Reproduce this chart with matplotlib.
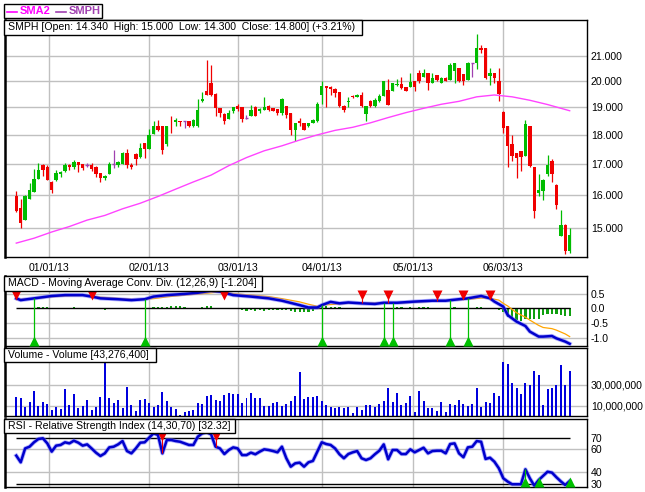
import numpy as np
import matplotlib
matplotlib.use('Agg')
import matplotlib.pyplot as plt
from matplotlib.patches import Rectangle
from matplotlib.lines import Line2D
from matplotlib.ticker import NullLocator

plt.rcParams['font.family'] = ['Liberation Sans', 'DejaVu Sans']

# ---------------- data ----------------
date_labels = ["01/01/13", "02/01/13", "03/01/13", "04/01/13", "05/01/13", "06/03/13"]
date_pos = [7.5, 30, 50, 69, 89.5, 110]

opens = [15.96, 15.61, 15.25, 15.89, 16.10, 16.53, 16.98, 16.92, 16.43, 16.49,
         16.66, 16.77, 16.98, 16.89, 17.07, 17.00, 16.98, 16.98, 16.92, 16.71,
         16.55, 16.68, 17.01, 16.96, 17.01, 17.37, 16.98, 17.35, 17.24, 17.72,
         17.52, 18.04, 18.31, 18.32, 17.69, 18.51, 18.46, 18.50, 18.48, 18.50,
         18.30, 18.30, 19.22, 19.62, 19.94, 19.51, 18.96, 18.76, 18.58, 18.85,
         19.03, 19.00, 18.60, 18.68, 19.00, 18.86, 18.90, 19.05, 18.96, 18.94,
         18.78, 19.05, 18.78, 18.18, 18.50, 18.42, 18.30, 18.42, 18.48, 19.47,
         19.81, 19.78, 19.70, 19.56, 19.06, 19.21, 19.43, 19.40, 19.47, 18.76,
         19.25, 19.03, 19.22, 19.43, 19.66, 19.63, 19.85, 19.89, 19.75, 19.78,
         20.00, 20.33, 20.17, 20.31, 19.94, 20.24, 19.94, 20.11, 20.04, 20.41,
         20.51, 20.27, 20.04, 20.71, 20.71, 21.32, 21.31, 20.20, 20.31, 20.00,
         18.84, 18.30, 17.69, 17.37, 17.43, 17.28, 18.32, 16.89, 16.08, 16.12,
         16.69, 17.11, 16.33, 14.77, 15.10, 14.34]
highs = [16.14, 15.88, 16.00, 16.37, 16.84, 17.03, 17.00, 16.96, 16.45, 16.82,
         16.76, 17.05, 17.00, 17.15, 17.08, 17.02, 17.03, 17.03, 16.95, 16.72,
         16.63, 17.07, 17.49, 17.11, 17.42, 17.52, 17.03, 17.36, 17.72, 17.73,
         18.20, 18.48, 18.52, 18.33, 18.33, 18.68, 18.60, 18.51, 18.50, 18.51,
         18.55, 19.32, 19.56, 20.84, 20.64, 19.52, 18.97, 18.77, 18.90, 19.02,
         19.13, 19.02, 18.72, 19.08, 19.05, 18.98, 19.40, 19.09, 18.97, 18.95,
         19.33, 19.06, 18.79, 18.43, 18.60, 18.43, 18.43, 18.56, 19.18, 20.00,
         19.82, 19.80, 19.71, 19.57, 19.07, 19.38, 19.47, 19.50, 19.57, 19.04,
         19.26, 19.33, 19.50, 20.00, 20.08, 19.94, 20.07, 20.17, 19.76, 20.31,
         20.01, 20.44, 20.47, 20.32, 20.31, 20.25, 20.17, 20.17, 20.73, 20.72,
         20.52, 20.28, 20.77, 20.72, 21.92, 21.46, 21.32, 20.51, 20.33, 20.51,
         18.85, 18.33, 18.00, 17.38, 17.44, 18.52, 18.33, 16.90, 16.69, 16.52,
         17.32, 17.17, 16.34, 15.53, 15.11, 15.00]
lows = [15.47, 15.00, 15.25, 15.88, 16.10, 16.50, 16.60, 16.49, 16.06, 16.45,
        16.57, 16.75, 16.82, 16.85, 16.73, 16.80, 16.92, 16.76, 16.57, 16.41,
        16.47, 16.66, 16.87, 16.92, 17.00, 16.87, 16.85, 16.98, 17.22, 17.19,
        17.50, 18.03, 18.15, 17.35, 17.60, 18.06, 18.30, 18.30, 18.26, 18.28,
        18.29, 18.29, 19.20, 19.47, 19.44, 18.69, 18.65, 18.40, 18.57, 18.78,
        18.85, 18.45, 18.58, 18.66, 18.66, 18.80, 18.88, 18.86, 18.85, 18.72,
        18.72, 18.60, 18.00, 17.80, 18.30, 18.17, 18.29, 18.41, 18.47, 19.13,
        19.00, 19.47, 19.40, 19.00, 18.81, 19.02, 19.35, 19.39, 19.00, 18.48,
        19.02, 19.02, 19.18, 19.42, 19.08, 19.62, 19.81, 19.70, 19.60, 19.77,
        19.60, 19.94, 20.16, 19.66, 19.93, 20.00, 19.93, 19.99, 20.03, 19.91,
        19.97, 19.85, 20.03, 20.15, 20.47, 21.14, 20.07, 19.84, 19.93, 19.22,
        18.08, 16.92, 17.09, 16.55, 16.78, 17.27, 16.90, 15.29, 15.98, 15.85,
        16.60, 16.41, 15.57, 14.76, 14.26, 14.30]
closes = [15.50, 15.15, 15.99, 16.17, 16.53, 16.82, 16.80, 16.49, 16.17, 16.71,
          16.73, 16.96, 16.89, 17.07, 16.98, 16.87, 16.98, 16.84, 16.69, 16.55,
          16.62, 17.00, 17.01, 17.08, 17.37, 16.96, 16.90, 17.17, 17.55, 17.52,
          18.00, 18.31, 18.16, 17.47, 18.32, 18.48, 18.54, 18.46, 18.48, 18.30,
          18.52, 18.90, 19.32, 19.47, 19.47, 18.96, 18.80, 18.48, 18.78, 19.00,
          18.94, 18.57, 18.60, 18.88, 18.68, 18.94, 19.00, 18.90, 18.86, 18.80,
          19.32, 18.72, 18.18, 18.42, 18.42, 18.18, 18.42, 18.52, 19.13, 19.81,
          19.72, 19.70, 19.55, 19.06, 18.88, 19.25, 19.38, 19.47, 19.03, 19.03,
          19.03, 19.28, 19.43, 20.00, 19.09, 19.91, 19.89, 19.71, 19.62, 19.97,
          19.78, 20.01, 20.31, 19.91, 20.11, 20.04, 20.11, 20.00, 20.64, 20.71,
          20.00, 20.01, 20.73, 20.71, 21.32, 21.25, 20.11, 20.33, 20.11, 19.50,
          18.24, 17.60, 17.28, 17.20, 17.24, 18.40, 16.93, 15.50, 16.15, 16.47,
          16.98, 16.66, 15.71, 15.10, 14.34, 14.80]

volumes_m = [18.5, 17.6, 8.9, 13.7, 24.2, 9.9, 13.7, 11.5, 5.7, 8.9,
             6.7, 25.8, 10.5, 21.1, 8.0, 9.9, 15.3, 5.7, 8.9, 18.5,
             52.6, 17.6, 12.1, 15.3, 8.0, 28.1, 10.5, 4.8, 15.3, 16.3,
             12.1, 8.9, 10.5, 23.3, 14.3, 8.9, 6.7, 1.0, 3.5, 4.8,
             5.7, 12.1, 11.5, 19.1, 20.1, 15.3, 14.3, 20.1, 22.6, 21.1,
             21.1, 12.1, 17.6, 22.6, 17.6, 17.6, 9.6, 9.6, 12.1, 13.1,
             9.6, 11.5, 14.3, 19.1, 42.4, 16.3, 18.5, 18.5, 19.1, 14.3,
             10.5, 8.9, 8.0, 8.9, 8.0, 8.9, 3.2, 8.9, 5.7, 10.5,
             10.5, 8.9, 11.5, 14.3, 27.1, 13.7, 22.6, 10.5, 12.1, 19.1,
             4.1, 23.9, 14.3, 8.0, 8.0, 4.8, 13.1, 4.1, 11.5, 10.5,
             15.3, 11.5, 9.6, 11.5, 27.1, 8.9, 13.1, 12.8, 22.6, 19.1,
             51.9, 50.4, 32.1, 27.1, 21.7, 32.1, 30.2, 43.9, 39.2, 10.5,
             25.8, 27.1, 29.6, 49.4, 29.6, 43.2764]

sma_idx = [0, 4, 8, 12, 16, 20, 24, 28, 32, 36, 40, 44, 48, 52, 56, 60, 64, 68,
           72, 76, 80, 84, 88, 92, 96, 100, 104, 108, 112, 116, 120, 125]
sma_val = [14.57, 14.71, 14.89, 15.05, 15.24, 15.38, 15.58, 15.75, 15.96, 16.19,
           16.42, 16.64, 16.95, 17.22, 17.45, 17.62, 17.82, 18.00, 18.16, 18.27,
           18.43, 18.62, 18.80, 18.96, 19.11, 19.22, 19.39, 19.46, 19.39, 19.26,
           19.10, 18.87]

macd_idx = [0, 1, 4, 8, 11, 15, 17, 19, 23, 26, 29, 31, 34, 38, 41, 44, 46, 49, 53,
            57, 60, 64, 66, 68, 69, 71, 73, 75, 78, 81, 83, 86, 90, 94, 97, 100, 102,
            105, 107, 108, 110, 111, 113, 115, 116, 118, 119, 121, 122, 124, 125]
macd_val = [0.34, 0.28, 0.34, 0.42, 0.45, 0.45, 0.40, 0.34, 0.31, 0.28, 0.31, 0.40,
            0.45, 0.49, 0.53, 0.60, 0.57, 0.45, 0.40, 0.34, 0.26, 0.11, 0.03, 0.03,
            0.11, 0.22, 0.17, 0.20, 0.17, 0.15, 0.19, 0.19, 0.23, 0.26, 0.26, 0.31,
            0.34, 0.42, 0.34, 0.23, 0.06, -0.23, -0.45, -0.60, -0.79, -0.96, -0.96,
            -0.94, -1.02, -1.13, -1.204]
sig_idx = [0, 4, 8, 12, 16, 19, 23, 27, 31, 34, 38, 42, 44, 46, 49, 53, 57, 60, 64,
           66, 68, 70, 73, 76, 80, 83, 86, 90, 94, 97, 100, 103, 105, 107, 109, 110,
           111, 113, 115, 116, 118, 119, 121, 122, 124, 125]
sig_val = [0.30, 0.33, 0.39, 0.43, 0.44, 0.38, 0.34, 0.30, 0.33, 0.39, 0.45, 0.50,
           0.53, 0.56, 0.50, 0.45, 0.40, 0.33, 0.22, 0.14, 0.07, 0.12, 0.15, 0.18,
           0.18, 0.18, 0.17, 0.21, 0.24, 0.26, 0.29, 0.32, 0.35, 0.34, 0.28, 0.17,
           0.08, -0.15, -0.30, -0.40, -0.58, -0.65, -0.69, -0.74, -0.87, -0.96]
macd_hist = [0, -0.03, -0.03, 0, 0, 0.03, 0.06, 0.03, 0, 0,
             0, 0, 0, 0.03, 0, 0, 0, 0, -0.03, -0.03,
             -0.06, -0.03, -0.03, -0.02, 0, 0, -0.03, 0, 0, 0,
             0, 0.06, 0.06, 0.03, 0.06, 0.08, 0.08, 0.08, 0.03, 0,
             0, 0, 0.06, 0.08, 0.08, 0, 0, -0.03, -0.03, -0.03,
             -0.03, -0.06, -0.08, -0.06, -0.08, -0.06, -0.08, -0.06, -0.06, -0.06,
             -0.06, -0.06, -0.08, -0.11, -0.11, -0.11, -0.11, -0.08, -0.03, 0.03,
             0.08, 0.06, 0.03, 0.03, 0, 0, 0, 0, 0, 0,
             -0.03, 0, 0, 0, 0, 0, 0.03, 0.03, 0, 0.03,
             0, 0.03, 0.03, 0.03, 0, 0, 0, 0, 0, 0.03,
             0, 0, 0, 0, 0.06, 0.06, 0, 0, -0.03, -0.06,
             -0.11, -0.28, -0.34, -0.40, -0.42, -0.37, -0.37, -0.35, -0.37, -0.23,
             -0.20, -0.20, -0.20, -0.23, -0.26, -0.26]
macd_sell = [0, 17, 47, 78, 84, 95, 101, 107]
macd_buy = [4, 29, 69, 83, 85, 98, 102]

rsi_idx = [0, 1, 2, 3, 4, 5, 6, 7, 8, 9, 10, 11, 12, 13, 14, 15, 16, 17, 18, 19,
           20, 21, 22, 23, 24, 25, 26, 27, 28, 29, 30, 31, 32, 33, 34, 35, 36, 37,
           39, 40, 41, 42, 43, 44, 45, 46, 47, 48, 49, 50, 51, 52, 53, 54, 55, 56,
           57, 58, 59, 60, 61, 62, 63, 64, 65, 66, 67, 68, 69, 70, 71, 72, 73, 74,
           75, 76, 77, 78, 79, 80, 81, 82, 83, 84, 85, 86, 87, 88, 89, 90, 91, 92,
           93, 94, 95, 96, 97, 98, 99, 100, 101, 102, 103, 104, 105, 106, 107, 108,
           109, 110, 111, 112, 114, 115, 116, 117, 118, 120, 121, 122, 123, 124, 125]
rsi_val = [54.4, 48.6, 60.7, 62.2, 66.0, 68.9, 69.5, 65.1, 57.9, 63.1, 63.7, 66.0,
           65.1, 67.4, 65.7, 63.1, 64.2, 60.7, 57.0, 54.1, 56.4, 61.6, 62.2, 64.2,
           67.1, 58.4, 56.4, 60.7, 65.7, 66.0, 70.0, 73.8, 72.4, 56.4, 68.0, 68.0,
           67.1, 66.5, 63.7, 63.7, 70.9, 73.8, 74.7, 73.0, 62.2, 60.7, 55.8, 59.3,
           61.6, 60.7, 54.9, 54.9, 57.0, 55.6, 57.9, 59.9, 59.3, 58.4, 57.3, 62.2,
           52.1, 44.8, 47.7, 48.3, 44.8, 48.6, 49.8, 57.9, 66.0, 64.5, 63.7, 60.7,
           55.6, 52.1, 55.8, 57.3, 58.4, 52.1, 50.6, 52.1, 55.6, 58.7, 64.2, 51.2,
           59.3, 59.3, 55.8, 55.8, 59.9, 57.3, 59.3, 61.3, 56.4, 58.4, 58.7, 58.7,
           56.4, 64.5, 65.1, 56.4, 53.0, 61.6, 62.2, 67.1, 66.5, 51.5, 52.6, 49.1,
           43.4, 34.7, 31.8, 29.5, 29.5, 42.5, 34.7, 28.3, 33.2, 40.4, 39.6, 35.6,
           32.0, 28.8, 32.32]
rsi_sell = [33, 45]
rsi_buy = [115, 118, 125]

# ---------------- figure ----------------
W, H = 645, 492
fig = plt.figure(figsize=(W / 100, H / 100), dpi=100)
FS = 7.6
GRID = '#C0C0C0'
GREEN = '#00BC00'
RED = '#F00000'
PURPLE = '#A040B0'


def rect(top, bottom, left=5.0, right=586.5):
    return [left / W, 1 - bottom / H, (right - left) / W, (bottom - top) / H]


def fx(px):
    return px / W


def fy(py):
    return 1 - py / H


n = len(closes)
xs = np.arange(n)
XL = (-2.55, 128.8)


def base_style(ax, yticks, ylabels, hgrid):
    ax.set_xlim(*XL)
    ax.set_xticks(date_pos)
    ax.tick_params(axis='x', length=0, labelbottom=False)
    ax.yaxis.tick_right()
    ax.set_yticks(yticks)
    ax.set_yticklabels(ylabels)
    ax.yaxis.set_minor_locator(NullLocator())
    ax.tick_params(axis='y', length=0, pad=3.2, labelsize=FS)
    for s in ax.spines.values():
        s.set_linewidth(1.0)
        s.set_color('black')
    ax.spines['left'].set_linewidth(1.8)
    for p in date_pos:
        ax.axvline(p, color=GRID, lw=1.0, zorder=0)
    for v in hgrid:
        ax.axhline(v, color=GRID, lw=1.0, zorder=0)


# ---- main price panel ----
ax1 = fig.add_axes(rect(20, 257))
ax1.set_yscale('log')
ax1.set_ylim(14.18, 22.53)
pt = [15, 16, 17, 18, 19, 20, 21]
base_style(ax1, pt, ['%.3f' % v for v in pt], pt)
ax1.tick_params(axis='x', labelbottom=True, pad=4.6, labelsize=FS)
ax1.set_xticklabels(date_labels)

o = np.array(opens); h = np.array(highs); l = np.array(lows); c = np.array(closes)
cols = [GREEN if cc > oo else (RED if cc < oo else PURPLE) for oo, cc in zip(o, c)]
ax1.vlines(xs, l, h, colors=cols, lw=0.9, zorder=2)
body_bot = np.minimum(o, c)
body_h = np.abs(c - o)
ax1.bar(xs, body_h, bottom=body_bot, width=0.76, color=cols, lw=0, zorder=3)
doji = np.where(body_h == 0)[0]
ax1.hlines(o[doji], doji - 0.38, doji + 0.38, colors=PURPLE, lw=1.0, zorder=3)
ax1.plot(sma_idx, sma_val, color='#FF44FF', lw=1.0, zorder=2.5)

# ---- MACD panel ----
ax2 = fig.add_axes(rect(276, 346))
ax2.set_ylim(-1.28, 1.10)
base_style(ax2, [0.5, 0.0, -0.5, -1.0], ['0.5', '0.0', '-0.5', '-1.0'], [0.5, -0.5, -1.0])
ax2.bar(xs, macd_hist, width=0.5, color='#10A010', lw=0, zorder=2)
ax2.hlines(0, 0, n - 1, color='black', lw=1.0, zorder=2.2)
ax2.plot(sig_idx, sig_val, color='#FFA500', lw=0.9, zorder=3)
ax2.plot(macd_idx, macd_val, color='#7070FF', lw=3.0, alpha=0.55, zorder=3.1)
ax2.plot(macd_idx, macd_val, color='#0000CC', lw=1.8, zorder=3.2)
sell_y, buy_y = 0.45, -1.107
ax2.vlines(macd_sell, np.interp(macd_sell, macd_idx, macd_val), sell_y, color=RED, lw=0.8, zorder=4)
ax2.vlines(macd_buy, buy_y, np.interp(macd_buy, macd_idx, macd_val), color='#00C000', lw=0.9, zorder=4)
ax2.plot(macd_sell, [sell_y] * len(macd_sell), 'v', color=RED, ms=6.5, mec='none', zorder=5)
ax2.plot(macd_buy, [buy_y] * len(macd_buy), '^', color='#00C000', ms=6.5, mec='none', zorder=5)

# ---- Volume panel ----
ax3 = fig.add_axes(rect(348, 416))
ax3.set_ylim(0, 65.7e6)
base_style(ax3, [30e6, 10e6], ['30,000,000', '10,000,000'], [10e6, 30e6])
ax3.bar(xs, np.array(volumes_m) * 1e6, width=0.45, color='#0000DD', lw=0, zorder=2)

# ---- RSI panel ----
ax4 = fig.add_axes(rect(419, 487))
ax4.set_ylim(27.1, 86.3)
base_style(ax4, [70, 60, 40, 30], ['70', '60', '40', '30'], [40, 60])
ax4.hlines([30, 70], 0, n - 1, color='black', lw=1.0, zorder=2)
ax4.plot(rsi_idx, rsi_val, color='#7070FF', lw=3.0, alpha=0.55, zorder=3)
ax4.plot(rsi_idx, rsi_val, color='#0000CC', lw=1.8, zorder=3.1)
rs_y, rb_y = 71.3, 31.7
ax4.vlines(rsi_sell, np.interp(rsi_sell, rsi_idx, rsi_val), rs_y, color=RED, lw=0.8, zorder=4)
ax4.vlines(rsi_buy, rb_y, np.interp(rsi_buy, rsi_idx, rsi_val), color='#00C000', lw=0.9, zorder=4)
ax4.plot(rsi_sell, [rs_y] * len(rsi_sell), 'v', color=RED, ms=6.5, mec='none', zorder=5)
ax4.plot(rsi_buy, [rb_y] * len(rsi_buy), '^', color='#00C000', ms=6.5, mec='none', zorder=5)


# ---- label boxes ----
def label_box(x0, y0, x1, y1, text):
    fig.patches.append(Rectangle((fx(x0), fy(y1)), fx(x1) - fx(x0), fy(y0) - fy(y1),
                                 transform=fig.transFigure, fc='white', ec='black', lw=1.0,
                                 figure=fig, zorder=10))
    fig.text(fx(x0 + 4.3), fy((y0 + y1) / 2), text, fontsize=FS, va='center', ha='left', zorder=11)


label_box(4, 20, 362, 35, "SMPH [Open: 14.340  High: 15.000  Low: 14.300  Close: 14.800] (+3.21%)")
label_box(4, 276, 261.7, 290.5, "MACD - Moving Average Conv. Div. (12,26,9) [-1.204]")
label_box(4, 348, 156, 362, "Volume - Volume [43,276,400]")
label_box(4, 419, 235, 432.5, "RSI - Relative Strength Index (14,30,70) [32.32]")

# legend box
fig.patches.append(Rectangle((fx(4), fy(17.7)), fx(101.7) - fx(4), fy(4) - fy(17.7),
                             transform=fig.transFigure, fc='white', ec='black', lw=1.0,
                             figure=fig, zorder=10))
fig.lines.append(Line2D([fx(7.3), fx(17.3)], [fy(11.7), fy(11.7)], transform=fig.transFigure,
                        color='#FF00FF', lw=1.2, zorder=11))
fig.lines.append(Line2D([fx(56), fx(66)], [fy(11.7), fy(11.7)], transform=fig.transFigure,
                        color=PURPLE, lw=1.2, zorder=11))
fig.text(fx(19.5), fy(11.2), "SMA2", fontsize=8.0, fontweight='bold', color='#FF00FF',
         va='center', ha='left', zorder=11)
fig.text(fx(68.5), fy(11.2), "SMPH", fontsize=8.0, fontweight='bold', color=PURPLE,
         va='center', ha='left', zorder=11)

fig.savefig('out.png', dpi=100)
